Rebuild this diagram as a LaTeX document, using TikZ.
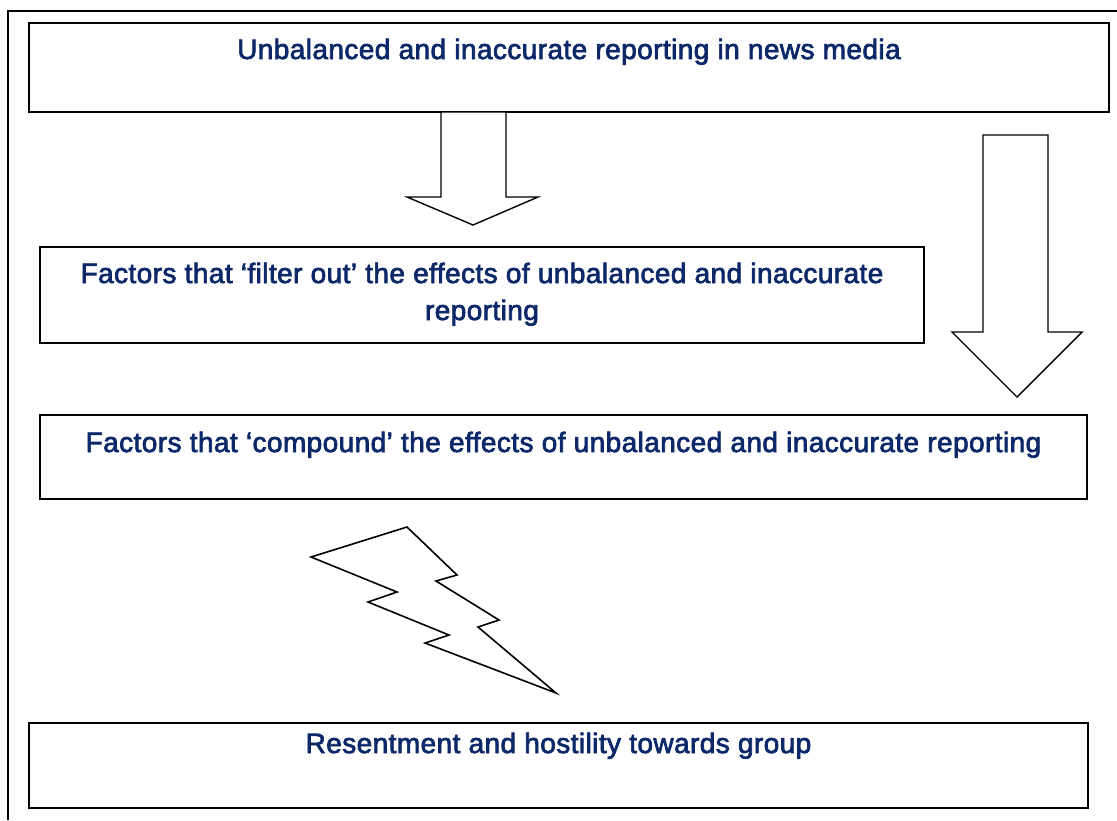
\documentclass[tikz,border=0pt]{standalone}
\usepackage{fontspec}
\newfontfamily\panelfont{Liberation Sans}[FakeBold=2.5,LetterSpace=1.5]
\definecolor{newsnavy}{RGB}{12,40,104}

\begin{document}
\begin{tikzpicture}[x=0.5pt,y=-0.5pt,
	panel/.style={draw,line width=1pt,inner sep=0pt,outer sep=0pt},
	caption/.style={text=newsnavy,font=\panelfont\fontsize{14}{18.5}\selectfont,anchor=base,align=center,inner sep=0pt},
	blockarrow/.style={draw,fill=white,line width=0.7pt}]
	\useasboundingbox (0,0) rectangle (1117,820);
	\draw[line width=0.8pt] (8,820) -- (8,11) -- (1117,11);

	\coordinate (bypass) at (983,135);
	\coordinate (spark) at (407,527);
	\node[panel,minimum width=540pt,minimum height=44.5pt] (news) at (569,67.5) {};
	\node[panel,minimum width=442pt,minimum height=48pt] (filter) at (482,295) {};
	\node[panel,minimum width=523.5pt,minimum height=42pt] (compound) at (563.5,457) {};
	\node[panel,minimum width=529.5pt,minimum height=42.5pt] (hostility) at (558.5,765.5) {};

	\draw[blockarrow] ([xshift=-64pt]news.south) -- ++(0,85)
		-- ++(-34,0) -- ++(66,28) -- ++(65,-28) -- ++(-32,0) -- ++(0,-85) -- cycle;
	\draw[blockarrow] (bypass) -- ++(0,197)
		-- ++(-31,0) -- ++(65,65) -- ++(65,-65) -- ++(-34,0) -- ++(0,-197) -- cycle;
	\draw[blockarrow,line width=0.8pt] (spark) -- ++(50,48) -- ++(-21,6)
		-- ++(63,39) -- ++(-21,7) -- ++(78,66) -- ++(-131,-50)
		-- ++(24,-8) -- ++(-81,-33) -- ++(29,-10) -- ++(-86,-35) -- cycle;

	\node[caption] (news text) at ([yshift=-18pt]news.north)
		{Unbalanced and inaccurate reporting in news media};
	\node[caption] (filter text) at ([yshift=-36.5pt]filter.north)
		{Factors that ‘filter out’ the effects of unbalanced and inaccurate\\reporting};
	\node[caption] (compound text) at ([yshift=-18.5pt]compound.north)
		{Factors that ‘compound’ the effects of unbalanced and inaccurate reporting};
	\node[caption] (hostility text) at ([yshift=-15pt]hostility.north)
		{Resentment and hostility towards group};
\end{tikzpicture}
\end{document}
